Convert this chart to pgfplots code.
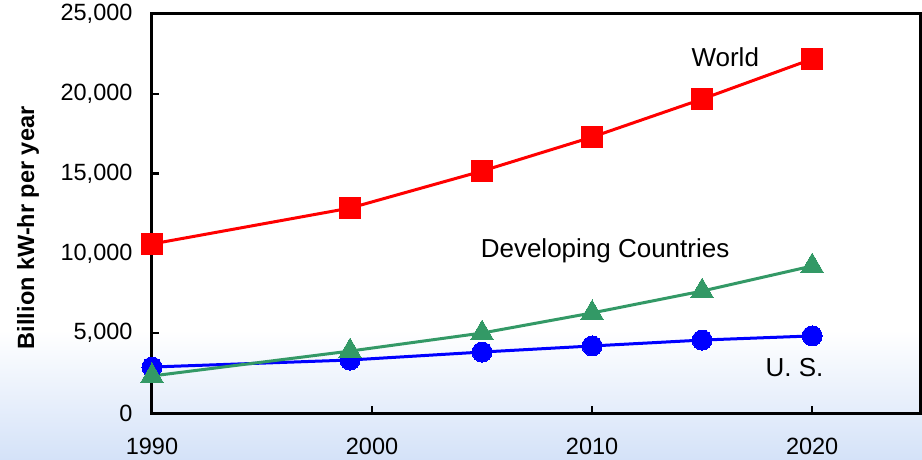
\documentclass[border=0pt]{standalone}
\usepackage{pgfplots}
\pgfplotsset{compat=1.18}
\usepackage{fontspec}
\setmainfont{Liberation Sans}

\definecolor{worldred}{RGB}{255,0,0}
\definecolor{usblue}{RGB}{0,0,255}
\definecolor{devgreen}{RGB}{51,153,102}
\definecolor{slideblue}{RGB}{212,226,248}

\begin{document}
\begin{tikzpicture}
  % slide background: white fading into pale blue at the bottom
  \useasboundingbox (-152bp,-47bp) rectangle (770bp,413bp);
  \fill[white] (-152bp,-47bp) rectangle (770bp,413bp);
  \shade[top color=white, bottom color=slideblue] (-152bp,-47bp) rectangle (770bp,83bp);

  \begin{axis}[
    at={(0,0)}, anchor=south west,
    scale only axis,
    width=768bp, height=399bp,
    xmin=1990, xmax=2024.9,
    ymin=0, ymax=25000,
    xtick={1990,2000,2010,2020},
    ytick={0,5000,10000,15000,20000,25000},
    xtick pos=left, ytick pos=left,
    tick align=inside,
    major tick length=7bp,
    separate axis lines,
    axis line style={line width=3bp, black, line cap=rect},
    every outer x axis line/.append style={line width=3bp},
    every outer y axis line/.append style={line width=3bp},
    every tick/.style={line width=2.5bp, black},
    scaled y ticks=false,
    /pgf/number format/assume math mode=true,
    x tick label style={/pgf/number format/1000 sep={}},
    y tick label style={/pgf/number format/1000 sep={,}},
    tick label style={font=\fontsize{23.5bp}{28bp}\selectfont},
    xticklabel style={yshift=-22bp},
    yticklabel style={xshift=-16bp},
    ylabel={\textbf{Billion kW-hr per year}},
    ylabel style={font=\fontsize{23.5bp}{28bp}\selectfont,
                  at={(axis description cs:-0.1615,0.464)}, anchor=center},
    clip=false,
    every axis plot/.append style={line width=3bp},
  ]
    % U.S.
    \addplot[usblue, mark=*, mark size=10bp, mark options={solid, fill=usblue, draw=usblue, line width=0pt}]
      coordinates {(1990,2880) (1999,3320) (2005,3820) (2010,4200) (2015,4570) (2020,4830)};
    % Developing countries
    \addplot[devgreen, mark=triangle*, mark size=13bp, mark options={solid, fill=devgreen, draw=devgreen, line width=0pt}]
      coordinates {(1990,2320) (1999,3880) (2005,5010) (2010,6270) (2015,7640) (2020,9210)};
    % World
    \addplot[worldred, mark=square*, mark size=10.5bp, mark options={solid, fill=worldred, draw=worldred, line width=0pt}]
      coordinates {(1990,10590) (1999,12840) (2005,15160) (2010,17290) (2015,19670) (2020,22180)};

    \node[anchor=base, font=\fontsize{26bp}{30bp}\selectfont] at (axis cs:2016.05,21740) {World};
    \node[anchor=base, font=\fontsize{26bp}{30bp}\selectfont] at (axis cs:2010.59,9712) {Developing Countries};
    \node[anchor=base, font=\fontsize{26bp}{30bp}\selectfont] at (axis cs:2019.2,2275) {U. S.};
  \end{axis}
\end{tikzpicture}
\end{document}
